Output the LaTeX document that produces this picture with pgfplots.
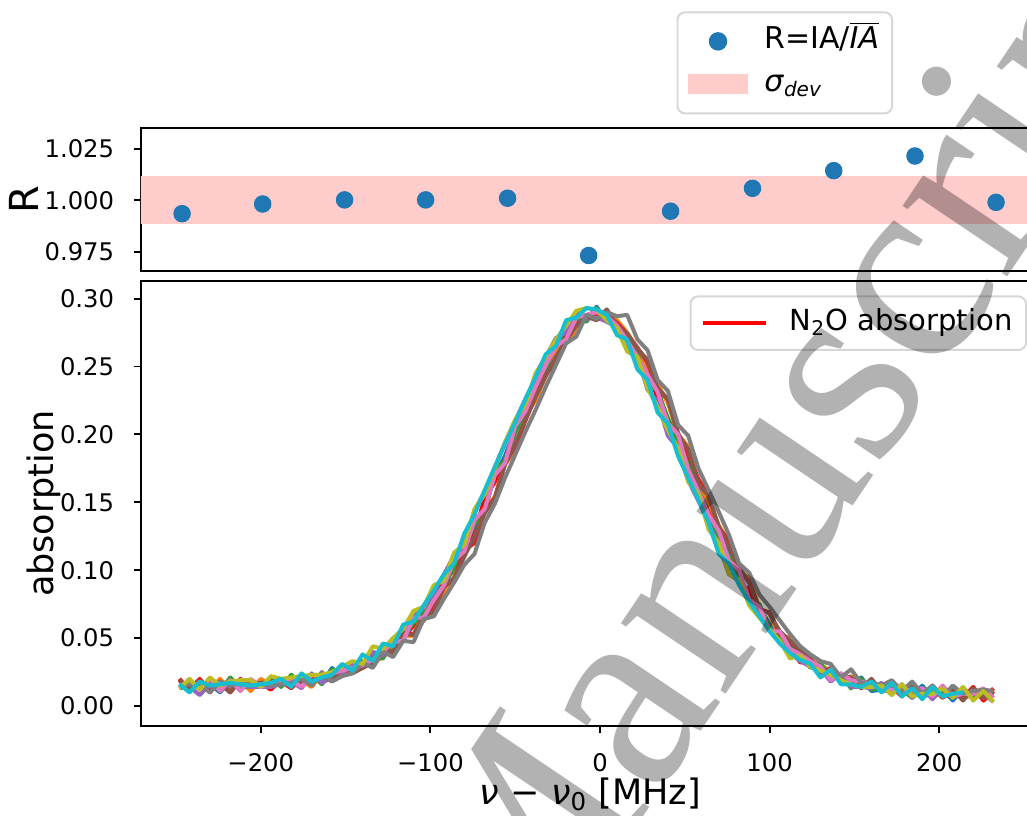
\documentclass[border=0pt]{standalone}
\usepackage{fontspec}
\setmainfont{DejaVu Sans}
\newfontfamily\wmfont{Liberation Serif}
\usepackage{pgfplots}
\usepackage{pgfplotstable}
\pgfplotsset{compat=1.18}
\definecolor{tabblue}{HTML}{1F77B4}
\definecolor{taborange}{HTML}{FF7F0E}
\definecolor{tabgreen}{HTML}{2CA02C}
\definecolor{tabred}{HTML}{D62728}
\definecolor{tabpurple}{HTML}{9467BD}
\definecolor{tabbrown}{HTML}{8C564B}
\definecolor{tabpink}{HTML}{E377C2}
\definecolor{tabgray}{HTML}{7F7F7F}
\definecolor{tabolive}{HTML}{BCBD22}
\definecolor{tabcyan}{HTML}{17BECF}
\definecolor{pured}{HTML}{FF0000}
\definecolor{bandpink}{HTML}{FFCCCC}
\definecolor{legendgray}{HTML}{D6D6D6}
\begin{document}
\pgfplotstableread{
x r b o g tr pu br pk gy ol cy
-248 0.020 0.013 0.014 0.014 0.019 0.014 0.019 0.014 0.015 0.013 0.016
-242 0.011 0.015 0.014 0.014 0.012 0.014 0.013 0.019 0.016 0.020 0.010
-236 0.018 0.016 0.019 0.015 0.020 0.008 0.015 0.012 0.016 0.012 0.018
-230 0.010 0.016 0.012 0.017 0.011 0.016 0.016 0.020 0.010 0.021 0.015
-224 0.019 0.010 0.020 0.011 0.018 0.013 0.016 0.011 0.018 0.015 0.016
-218 0.014 0.019 0.011 0.021 0.010 0.015 0.010 0.019 0.015 0.018 0.017
-212 0.016 0.016 0.019 0.013 0.020 0.015 0.019 0.011 0.017 0.019 0.016
-206 0.017 0.017 0.011 0.015 0.014 0.014 0.016 0.020 0.017 0.019 0.015
-200 0.017 0.017 0.020 0.015 0.016 0.014 0.017 0.014 0.016 0.014 0.016
-194 0.012 0.017 0.015 0.021 0.018 0.014 0.018 0.017 0.015 0.022 0.017
-188 0.020 0.016 0.017 0.014 0.018 0.016 0.017 0.018 0.016 0.020 0.020
-182 0.018 0.017 0.019 0.023 0.013 0.018 0.017 0.019 0.017 0.021 0.014
-176 0.020 0.019 0.019 0.015 0.021 0.013 0.017 0.014 0.020 0.022 0.024
-170 0.021 0.022 0.014 0.023 0.019 0.024 0.019 0.023 0.015 0.023 0.018
-164 0.021 0.017 0.024 0.016 0.022 0.017 0.023 0.021 0.025 0.023 0.021
-158 0.022 0.028 0.022 0.027 0.023 0.021 0.018 0.024 0.018 0.025 0.023
-152 0.024 0.022 0.025 0.023 0.024 0.024 0.029 0.026 0.022 0.029 0.031
-146 0.028 0.027 0.028 0.028 0.026 0.031 0.024 0.028 0.024 0.033 0.026
-140 0.033 0.030 0.029 0.032 0.028 0.028 0.028 0.030 0.032 0.031 0.038
-134 0.031 0.039 0.032 0.036 0.033 0.040 0.032 0.034 0.028 0.044 0.033
-128 0.045 0.037 0.036 0.035 0.039 0.037 0.041 0.040 0.040 0.042 0.046
-122 0.042 0.050 0.043 0.048 0.039 0.050 0.040 0.047 0.036 0.050 0.044
-116 0.051 0.048 0.051 0.052 0.054 0.049 0.054 0.048 0.048 0.057 0.060
-110 0.059 0.063 0.052 0.061 0.053 0.068 0.052 0.065 0.047 0.070 0.062
-104 0.072 0.063 0.069 0.069 0.063 0.072 0.067 0.065 0.064 0.073 0.074
-98 0.076 0.083 0.071 0.079 0.073 0.084 0.069 0.078 0.066 0.089 0.085
-92 0.095 0.088 0.083 0.089 0.088 0.097 0.088 0.089 0.079 0.092 0.097
-86 0.099 0.103 0.095 0.102 0.093 0.111 0.094 0.107 0.091 0.113 0.105
-80 0.120 0.118 0.114 0.117 0.115 0.119 0.110 0.114 0.104 0.119 0.127
-74 0.127 0.133 0.121 0.134 0.120 0.144 0.125 0.137 0.112 0.145 0.141
-68 0.153 0.144 0.146 0.145 0.144 0.158 0.142 0.145 0.135 0.156 0.159
-62 0.165 0.170 0.154 0.172 0.153 0.176 0.153 0.170 0.149 0.175 0.176
-56 0.184 0.184 0.178 0.181 0.179 0.194 0.178 0.179 0.168 0.194 0.193
-50 0.203 0.203 0.188 0.201 0.191 0.210 0.193 0.206 0.185 0.211 0.209
-44 0.220 0.220 0.214 0.218 0.210 0.226 0.211 0.217 0.202 0.222 0.226
-38 0.230 0.235 0.225 0.239 0.228 0.241 0.228 0.235 0.218 0.245 0.242
-32 0.253 0.249 0.243 0.247 0.244 0.257 0.243 0.251 0.235 0.257 0.259
-26 0.264 0.263 0.259 0.269 0.253 0.271 0.257 0.265 0.251 0.270 0.265
-20 0.276 0.275 0.271 0.271 0.273 0.275 0.269 0.270 0.267 0.280 0.284
-14 0.284 0.285 0.275 0.286 0.280 0.290 0.280 0.286 0.272 0.291 0.286
-8 0.288 0.284 0.288 0.283 0.286 0.285 0.287 0.288 0.288 0.293 0.293
-2 0.288 0.294 0.288 0.293 0.289 0.286 0.284 0.290 0.285 0.292 0.292
4 0.285 0.283 0.288 0.284 0.287 0.283 0.292 0.287 0.290 0.284 0.288
10 0.280 0.279 0.284 0.280 0.282 0.280 0.280 0.280 0.287 0.278 0.273
16 0.272 0.269 0.275 0.271 0.274 0.262 0.274 0.269 0.288 0.261 0.270
22 0.254 0.262 0.263 0.259 0.264 0.257 0.263 0.257 0.270 0.257 0.248
28 0.249 0.241 0.250 0.239 0.253 0.233 0.255 0.244 0.262 0.234 0.240
34 0.226 0.234 0.237 0.232 0.233 0.224 0.234 0.231 0.240 0.220 0.216
40 0.211 0.208 0.223 0.212 0.226 0.199 0.226 0.208 0.232 0.203 0.208
46 0.194 0.198 0.200 0.196 0.201 0.190 0.200 0.200 0.207 0.190 0.184
52 0.181 0.172 0.191 0.178 0.185 0.166 0.189 0.174 0.199 0.165 0.168
58 0.156 0.163 0.165 0.159 0.167 0.151 0.163 0.158 0.175 0.156 0.152
64 0.147 0.140 0.150 0.141 0.155 0.135 0.155 0.141 0.159 0.130 0.135
70 0.121 0.125 0.133 0.124 0.131 0.118 0.132 0.129 0.143 0.120 0.112
76 0.113 0.111 0.121 0.110 0.122 0.097 0.117 0.107 0.126 0.097 0.105
82 0.090 0.096 0.099 0.097 0.098 0.092 0.103 0.100 0.105 0.093 0.089
88 0.086 0.077 0.094 0.078 0.092 0.076 0.090 0.078 0.098 0.074 0.077
94 0.068 0.073 0.072 0.075 0.071 0.066 0.071 0.073 0.082 0.065 0.066
100 0.060 0.060 0.068 0.057 0.069 0.056 0.068 0.055 0.073 0.056 0.055
106 0.052 0.052 0.050 0.050 0.053 0.047 0.055 0.055 0.063 0.048 0.046
112 0.044 0.044 0.051 0.042 0.047 0.039 0.048 0.042 0.053 0.035 0.039
118 0.032 0.037 0.038 0.041 0.041 0.033 0.041 0.038 0.044 0.037 0.034
124 0.034 0.030 0.034 0.028 0.035 0.029 0.034 0.033 0.038 0.029 0.031
130 0.027 0.026 0.030 0.032 0.024 0.027 0.028 0.029 0.033 0.026 0.021
136 0.024 0.023 0.026 0.019 0.028 0.018 0.024 0.019 0.031 0.023 0.027
142 0.021 0.022 0.017 0.023 0.022 0.024 0.022 0.024 0.021 0.019 0.016
148 0.018 0.014 0.022 0.013 0.020 0.014 0.021 0.019 0.027 0.016 0.016
154 0.015 0.021 0.017 0.020 0.018 0.014 0.013 0.018 0.017 0.014 0.014
160 0.013 0.011 0.016 0.012 0.015 0.013 0.020 0.016 0.017 0.014 0.018
166 0.013 0.012 0.015 0.013 0.013 0.017 0.011 0.014 0.015 0.015 0.010
172 0.014 0.011 0.013 0.013 0.012 0.009 0.012 0.012 0.019 0.008 0.017
178 0.007 0.015 0.011 0.012 0.012 0.016 0.011 0.011 0.011 0.016 0.007
184 0.016 0.008 0.010 0.006 0.013 0.006 0.015 0.012 0.018 0.007 0.013
190 0.007 0.015 0.010 0.013 0.006 0.013 0.007 0.013 0.009 0.009 0.005
196 0.009 0.006 0.012 0.010 0.015 0.005 0.015 0.007 0.015 0.009 0.014
202 0.008 0.012 0.006 0.010 0.007 0.013 0.006 0.015 0.007 0.013 0.007
208 0.013 0.004 0.014 0.010 0.008 0.007 0.012 0.007 0.015 0.006 0.009
214 0.006 0.013 0.006 0.009 0.008 0.009 0.004 0.009 0.009 0.014 0.010
220 0.014 0.007 0.008 0.008 0.013 0.009 0.013 0.009 0.011 0.004 nan
226 0.004 0.008 0.007 0.007 0.005 0.009 0.006 0.013 0.012 0.011 nan
232 0.011 0.009 0.012 0.008 0.013 0.003 0.008 0.006 0.011 0.003 nan
}\curves
\pgfplotstableread{
x R
-246.4 0.9935
-198.9 0.9982
-150.6 1.0002
-102.8 1.0002
-54.5 1.0010
-6.7 0.9732
41.6 0.9947
89.9 1.0058
137.8 1.0144
185.7 1.0215
233.5 0.9990
}\ratio
\begin{tikzpicture}
\path[use as bounding box] (0pt,0pt) rectangle (410.8pt,326.4pt);
\clip (0pt,0pt) rectangle (410.8pt,326.4pt);
\pgfplotsset{
  common/.style={
    scale only axis, width=359.68pt, anchor=south west,
    xmin=-270.75, xmax=259.4,
    axis line style={line width=0.78pt},
    tick style={line width=0.78pt, black},
    major tick length=2.9pt, tick align=outside,
    xtick pos=bottom, ytick pos=left,
    tick label style={font=\fontsize{9.7}{11.6}\selectfont},
    yticklabel style={anchor=east, inner sep=0pt, xshift=-7.6pt},
    xticklabel style={anchor=north, inner sep=0pt, yshift=-8pt},
    label style={font=\fontsize{14}{16.8}\selectfont},
  }
}
\begin{axis}[common,
  at={(56.32pt,218pt)}, height=57.2pt,
  ymin=0.96568, ymax=1.0351,
  xtick=\empty,
  ytick={0.975,1.000,1.025}, yticklabels={0.975,1.000,1.025},
  ylabel={R},
  ylabel style={at={(axis description cs:-0.1143,0.5)}, anchor=base, font=\fontsize{16}{19}\selectfont},
  reverse legend,
  legend cell align=left,
  legend style={at={(rel axis cs:0.5958,1.8154)}, anchor=north west,
    draw=legendgray, line width=0.78pt, rounded corners=3pt, fill=white,
    inner xsep=4.2pt, inner ysep=4.6pt,
    font=\fontsize{12}{14.4}\selectfont,
    nodes={inner sep=1pt, text height=9pt, text depth=3pt},
    row sep=3.2pt, column sep=5.5pt},
]
\addplot[draw=none, fill=bandpink,
  legend image code/.code={\fill[bandpink, sharp corners] (0pt,-4pt) rectangle (24pt,4pt);}]
  coordinates {(-280,0.98864) (270,0.98864) (270,1.01184) (-280,1.01184)} -- cycle;
\addlegendentry{\textit{σ}\textsubscript{\textit{dev}}}
\addplot[only marks, mark=*, mark size=3.3pt, tabblue, mark options={draw=none, fill=tabblue},
  legend image code/.code={\fill[tabblue] (12pt,0pt) circle (3.3pt);}]
  table[x=x, y=R]{\ratio};
\addlegendentry{R=IA/$\overline{\mbox{\itshape IA}}$}
\end{axis}
\begin{axis}[common,
  at={(56.32pt,36pt)}, height=178pt,
  ymin=-0.01473, ymax=0.31296,
  xtick={-200,-100,0,100,200}, xticklabels={−200,−100,0,100,200},
  ytick={0,0.05,0.1,0.15,0.2,0.25,0.3},
  yticklabels={0.00,0.05,0.10,0.15,0.20,0.25,0.30},
  xlabel={\textit{ν} − \textit{ν}\textsubscript{0} [MHz]},
  xlabel style={at={(axis description cs:0.5,-0.1775)}, anchor=base},
  ylabel={absorption},
  ylabel style={at={(axis description cs:-0.0973,0.5)}, anchor=base},
  legend cell align=left,
  legend style={at={(rel axis cs:0.6103,0.9674)}, anchor=north west,
    draw=legendgray, line width=0.78pt, rounded corners=3pt, fill=white,
    inner xsep=4.4pt, inner ysep=3.7pt,
    font=\fontsize{11.6}{13.9}\selectfont,
    nodes={inner sep=1pt, text height=9pt, text depth=3pt},
    column sep=7.8pt},
  every axis plot/.append style={line width=1.6pt, line join=round},
]
\addplot[pured, legend image code/.code={\draw[pured, line width=1.46pt, sharp corners] (0pt,0pt) -- (25pt,0pt);}]
  table[x=x, y=r]{\curves};
\addlegendentry{N\textsubscript{2}O absorption}
\addplot[tabblue, forget plot] table[x=x, y=b]{\curves};
\addplot[taborange, forget plot] table[x=x, y=o]{\curves};
\addplot[tabgreen, forget plot] table[x=x, y=g]{\curves};
\addplot[tabred, forget plot] table[x=x, y=tr]{\curves};
\addplot[tabpurple, forget plot] table[x=x, y=pu]{\curves};
\addplot[tabbrown, forget plot] table[x=x, y=br]{\curves};
\addplot[tabpink, forget plot] table[x=x, y=pk]{\curves};
\addplot[tabgray, forget plot] table[x=x, y=gy]{\curves};
\addplot[tabolive, forget plot] table[x=x, y=ol]{\curves};
\addplot[tabcyan, forget plot] table[x=x, y=cy]{\curves};
\end{axis}
\node[rotate=56, anchor=base west, inner sep=0pt, text=black, text opacity=0.3,
  font=\wmfont\fontsize{110}{110}\selectfont] at (207.0pt,-75.1pt) {Manuscript};
\end{tikzpicture}
\end{document}
